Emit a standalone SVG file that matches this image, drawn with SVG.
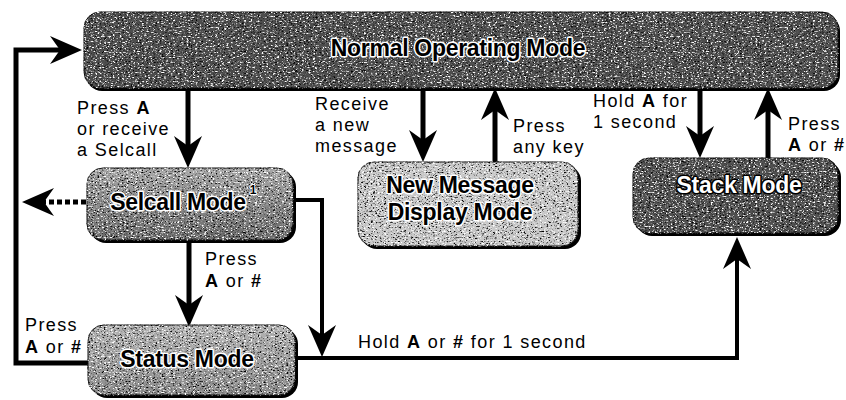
<svg xmlns="http://www.w3.org/2000/svg" width="846" height="400" viewBox="0 0 846 400">
<style>
.lbl{font-family:"Liberation Sans",Arial,sans-serif;font-size:18px;letter-spacing:1.4px;fill:#000}
.b{font-weight:bold}
.nt{font-family:"Liberation Sans",Arial,sans-serif;font-size:23px;font-weight:bold;fill:#000;stroke:#fff;stroke-width:3;paint-order:stroke;stroke-linejoin:round;text-anchor:middle;letter-spacing:-0.3px}
.nt.inv{fill:#fff;stroke:#000;stroke-width:3}
.sh{fill:#000}
.bx{stroke:#111;stroke-width:1;filter:url(#grain)}
.ln{fill:none;stroke:#000;stroke-width:5;stroke-linejoin:miter}
.thin{stroke-width:4}
.dot{stroke-dasharray:5 3}
</style>
<defs>
<filter id="grain" color-interpolation-filters="sRGB">
<feTurbulence type="fractalNoise" baseFrequency="0.45 0.8" numOctaves="2" seed="7" result="t"/>
<feColorMatrix in="t" type="matrix" values="0 0 0 0 0 0 0 0 0 0 0 0 0 0 0 5 0 0 0 -2.75" result="dk"/>
<feColorMatrix in="t" type="matrix" values="0 0 0 0 1 0 0 0 0 1 0 0 0 0 1 0 -5 0 0 2.25" result="lt"/>
<feComposite in="dk" in2="SourceAlpha" operator="in" result="dk2"/>
<feComposite in="lt" in2="SourceAlpha" operator="in" result="lt2"/>
<feMerge><feMergeNode in="SourceGraphic"/><feMergeNode in="dk2"/><feMergeNode in="lt2"/></feMerge>
</filter>
<linearGradient id="gSel" x1="0" y1="0" x2="0" y2="1"><stop offset="0" stop-color="#a8a8a8"/><stop offset="1" stop-color="#6a6a6a"/></linearGradient>
<linearGradient id="gSta" x1="0" y1="0" x2="0" y2="1"><stop offset="0" stop-color="#b4b4b4"/><stop offset="1" stop-color="#8a8a8a"/></linearGradient>
<marker id="ah" viewBox="-34 -16 36 32" markerWidth="36" markerHeight="32" refX="-12" refY="0" orient="auto" markerUnits="userSpaceOnUse">
<path d="M0,0 L-32,-14 L-22,0 L-32,14 Z" fill="#000"/>
</marker>
</defs>
<rect width="846" height="400" fill="#fff"/>

<g id="connectors">
<polyline class="ln" points="88,363 16,363 16,50 70,50" marker-end="url(#ah)"/>
<line class="ln" x1="188" y1="88" x2="188" y2="156" marker-end="url(#ah)"/>
<line class="ln" x1="423" y1="88" x2="423" y2="150" marker-end="url(#ah)"/>
<line class="ln" x1="495" y1="162" x2="495" y2="100" marker-end="url(#ah)"/>
<line class="ln" x1="700" y1="88" x2="700" y2="146" marker-end="url(#ah)"/>
<line class="ln" x1="768" y1="158" x2="768" y2="100" marker-end="url(#ah)"/>
<line class="ln" x1="189" y1="240" x2="189" y2="315" marker-end="url(#ah)"/>
<polyline class="ln thin" points="290,200 322,200 322,345" marker-end="url(#ah)"/>
<polyline class="ln thin" points="293,358 737,358 737,249" marker-end="url(#ah)"/>
<line class="ln dot" x1="86" y1="202" x2="34" y2="202" marker-end="url(#ah)"/>
<text class="lbl" x="77" y="114">Press <tspan class="b">A</tspan></text>
<text class="lbl" x="77" y="135">or receive</text>
<text class="lbl" x="77" y="156">a Selcall</text>
<text class="lbl" x="315" y="110">Receive</text>
<text class="lbl" x="315" y="131">a new</text>
<text class="lbl" x="315" y="152">message</text>
<text class="lbl" x="513" y="132">Press</text>
<text class="lbl" x="513" y="153">any key</text>
<text class="lbl" x="593" y="107">Hold <tspan class="b">A</tspan> for</text>
<text class="lbl" x="593" y="128">1 second</text>
<text class="lbl" x="788" y="130">Press</text>
<text class="lbl" x="788" y="151"><tspan class="b">A</tspan> or <tspan class="b">#</tspan></text>
<text class="lbl" x="205" y="265">Press</text>
<text class="lbl" x="205" y="287"><tspan class="b">A</tspan> or <tspan class="b">#</tspan></text>
<text class="lbl" x="25" y="331">Press</text>
<text class="lbl" x="25" y="353"><tspan class="b">A</tspan> or <tspan class="b">#</tspan></text>
<text class="lbl" x="358" y="348">Hold <tspan class="b">A</tspan> or <tspan class="b">#</tspan> for 1 second</text>
</g>

<g id="normal">
<rect class="sh" x="86" y="15" width="754" height="76" rx="16"/>
<rect class="bx" x="84" y="12" width="754" height="76" rx="16" fill="#4e4e4e"/>
<text class="nt" x="458" y="56">Normal Operating Mode</text>
</g>

<g id="selcall">
<rect class="sh" x="90" y="171" width="206" height="72" rx="16"/>
<rect class="bx" x="87" y="168" width="206" height="72" rx="16" fill="url(#gSel)"/>
<text class="nt" x="178" y="210">Selcall Mode</text>
<text class="nt" x="253" y="194" style="font-size:12px;stroke-width:2">1</text>
</g>

<g id="newmsg">
<rect class="sh" x="361" y="165" width="220" height="84" rx="16"/>
<rect class="bx" x="358" y="162" width="220" height="84" rx="16" fill="#c8c8c8"/>
<text class="nt" x="460" y="193">New Message</text>
<text class="nt" x="460" y="220">Display Mode</text>
</g>

<g id="stack">
<rect class="sh" x="636" y="161" width="205" height="75" rx="16"/>
<rect class="bx" x="633" y="158" width="205" height="75" rx="16" fill="#505050"/>
<text class="nt inv" x="739" y="193">Stack Mode</text>
</g>

<g id="status">
<rect class="sh" x="91" y="328" width="207" height="70" rx="16"/>
<rect class="bx" x="88" y="325" width="207" height="70" rx="16" fill="url(#gSta)"/>
<text class="nt" x="187" y="367">Status Mode</text>
</g>
</svg>
